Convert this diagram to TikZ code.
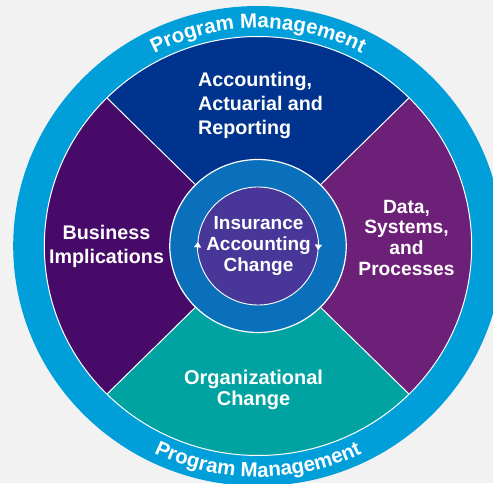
\documentclass[tikz,border=0pt]{standalone}
\usepackage{fontspec}
\setmainfont{Liberation Sans}
\usetikzlibrary{decorations.text,arrows.meta}

\definecolor{pagebg}{HTML}{F2F2F2}
\definecolor{ringblue}{HTML}{009FDA}
\definecolor{topblue}{HTML}{00338D}
\definecolor{leftpurple}{HTML}{470A68}
\definecolor{rightpurple}{HTML}{6D2077}
\definecolor{lowteal}{HTML}{00A3A1}
\definecolor{midblue}{HTML}{0A70BC}
\definecolor{corepurple}{HTML}{483698}

\begin{document}
\begin{tikzpicture}[x=1pt,y=1pt,
  txt/.style={text=white, inner sep=0pt},
  seam/.style={draw=white, line width=1pt},
  cyclearrow/.style={white, line width=0.9pt, -{Triangle[width=7pt,length=5.5pt]}},
  ringtext/.style={decorate, decoration={text along path, text color=white,
      text align=center, text={|\fontsize{20.5}{24}\selectfont\bfseries|Program Management}}}]
\useasboundingbox (0,0) rectangle (493,483);
\fill[pagebg] (0,0) rectangle (493,483);
\clip (0,0) rectangle (493,483);
\coordinate (C) at (258,237);

\begin{scope}[shift={(C)}, xscale=1.02]
  % outer program management ring
  \fill[ringblue] (0,0) circle (240);
  % four work streams
  \fill[topblue] (0,0) -- (45:209.5) arc[start angle=45, end angle=135, radius=209.5] -- cycle;
  \fill[leftpurple] (0,0) -- (135:209.5) arc[start angle=135, end angle=225, radius=209.5] -- cycle;
  \fill[lowteal] (0,0) -- (225:209.5) arc[start angle=225, end angle=315, radius=209.5] -- cycle;
  \fill[rightpurple] (0,0) -- (315:209.5) arc[start angle=315, end angle=405, radius=209.5] -- cycle;
  \draw[seam] (0,0) circle (209.5);
  \foreach \a in {45,135,225,315} \draw[seam] (\a:86.5) -- (\a:209.5);
  % middle ring and core
  \fill[midblue] (0,0) circle (86.5);
  \draw[seam, line width=1.2pt] (0,0) circle (86.5);
  \fill[corepurple] (0,0) circle (59);
  % clockwise cycle arrows round the core
  \draw[cyclearrow] (180:59) arc[start angle=180, end angle=-4, radius=59];
  \draw[cyclearrow] (0:59) arc[start angle=0, end angle=-184, radius=59];
\end{scope}

% curved ring captions
\path[ringtext] (C) ++(160:222.36 and 218) arc[start angle=160, end angle=20, x radius=222.36, y radius=218];
\path[ringtext] (C) ++(200:235.6 and 231) arc[start angle=200, end angle=340, x radius=235.6, y radius=231];

% segment labels
\node[txt, align=left, anchor=west, font=\bfseries\fontsize{19.7}{24}\selectfont] (acct) at (198,378)
  {Accounting,\\Actuarial and\\Reporting};
\node[txt, align=center, font=\bfseries\fontsize{19.7}{24}\selectfont] (biz) at (106.5,237)
  {Business\\Implications};
\node[txt, align=center, font=\bfseries\fontsize{19.2}{20.8}\selectfont] (data) at (406.5,245.2)
  {Data,\\Systems,\\and\\Processes};
\node[txt, align=center, font=\bfseries\fontsize{20}{21}\selectfont] (org) at (253.5,93.4)
  {Organizational\\Change};
\node[txt, align=center, font=\bfseries\fontsize{19}{20.8}\selectfont] (core) at (258.5,236.8)
  {Insurance\\Accounting\\Change};
\end{tikzpicture}
\end{document}
